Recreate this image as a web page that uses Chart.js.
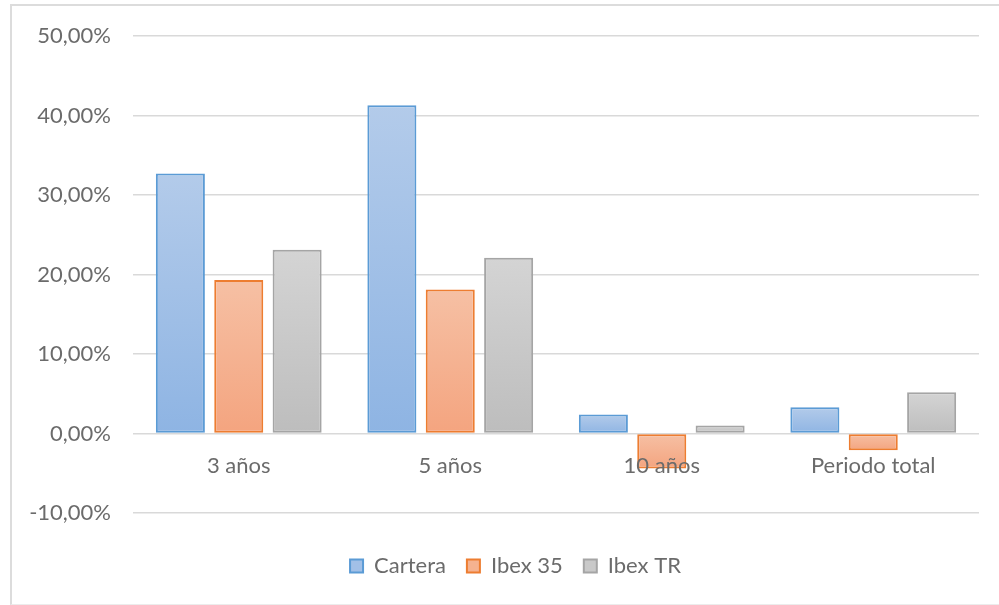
<!DOCTYPE html>
<html>
<head>
<meta charset="utf-8">
<script src="https://cdn.jsdelivr.net/npm/chart.js@4"></script>
<style>
  html, body { margin: 0; padding: 0; background: #fff; }
  #frame { position: absolute; left: 10px; top: 4px; width: 1000px; height: 598px; border: 2px solid #dcdcdc; border-right: none; border-bottom: 1px solid #ececec; }
  #wrap { position: absolute; left: 0; top: 0; width: 999px; height: 605px; }
</style>
</head>
<body>
<div id="frame"></div>
<div id="wrap"><canvas id="c" width="999" height="605"></canvas></div>
<script>
const categories = ['3 años', '5 años', '10 años', 'Periodo total'];
const cartera = [32.7, 41.3, 2.4, 3.3];
const ibex35 = [19.3, 18.1, -4.4, -2.1];
const ibexTR = [23.1, 22.1, 1.0, 5.2];
const seriesNames = ['Cartera', 'Ibex 35', 'Ibex TR'];
const yTicks = { min: -10, max: 50, step: 10 };

const palette = [
  { top: '#b3cbea', bottom: '#8eb4e3', border: '#5b9bd5', mid: '#a2c0e7' },
  { top: '#f6c0a4', bottom: '#f4a47f', border: '#ed7d31', mid: '#f5b290' },
  { top: '#d4d4d4', bottom: '#bdbdbd', border: '#a5a5a5', mid: '#c9c9c9' }
];

function gradientFor(i) {
  return function(ctx) {
    const chart = ctx.chart;
    const p = palette[i];
    if (!chart.chartArea || ctx.type !== 'data') return p.mid;
    const y = chart.scales.y;
    const v = ctx.raw;
    const y0 = y.getPixelForValue(0), y1 = y.getPixelForValue(v);
    const a = Math.min(y0, y1), b = Math.max(y0, y1) + 0.5;
    const g = chart.ctx.createLinearGradient(0, a, 0, b);
    g.addColorStop(0, p.top);
    g.addColorStop(1, p.bottom);
    return g;
  };
}

const dataArrays = [cartera, ibex35, ibexTR];
const datasets = dataArrays.map((d, i) => ({
  label: seriesNames[i],
  data: d,
  backgroundColor: gradientFor(i),
  borderColor: palette[i].border,
  borderWidth: 2,
  borderSkipped: false,
  barPercentage: 0.84,
  categoryPercentage: 0.828
}));

const FONT = 'Lato';
const TEXT = '#6b6b6b';

const legendShift = {
  id: 'legendShift',
  afterLayout(chart) {
    if (chart.legend) chart.legend.left = 52;
  }
};

new Chart(document.getElementById('c'), {
  type: 'bar',
  data: { labels: categories, datasets },
  plugins: [legendShift],
  options: {
    responsive: false,
    animation: false,
    layout: { padding: { left: 0, right: 20, top: 36, bottom: 18 } },
    plugins: {
      tooltip: { enabled: false },
      legend: {
        position: 'bottom',
        title: { display: true, text: '', font: { size: 10 }, padding: { top: 9, bottom: 0 } },
        labels: {
          font: { family: FONT, size: 22 },
          color: TEXT,
          boxWidth: 13,
          boxHeight: 13,
          padding: 21,
          generateLabels: (chart) => chart.data.datasets.map((ds, i) => ({
            text: ds.label,
            fillStyle: palette[i].mid,
            strokeStyle: palette[i].border,
            lineWidth: 2,
            fontColor: TEXT,
            hidden: false,
            datasetIndex: i
          }))
        }
      }
    },
    scales: {
      x: {
        position: { y: 0 },
        grid: { display: false, drawTicks: false },
        border: { display: false },
        ticks: {
          z: 1,
          font: { family: FONT, size: 22 },
          color: TEXT,
          padding: 19,
          maxRotation: 0,
          autoSkip: false
        }
      },
      y: {
        min: yTicks.min,
        max: yTicks.max,
        grid: { color: '#d9d9d9', lineWidth: 1.5, drawTicks: false },
        border: { display: false },
        ticks: {
          stepSize: yTicks.step,
          font: { family: FONT, size: 22 },
          color: TEXT,
          padding: 22,
          callback: (v) => v.toFixed(2).replace('.', ',') + '%'
        },
        afterFit: (s) => { s.width = 133; }
      }
    }
  }
});
</script>
</body>
</html>
